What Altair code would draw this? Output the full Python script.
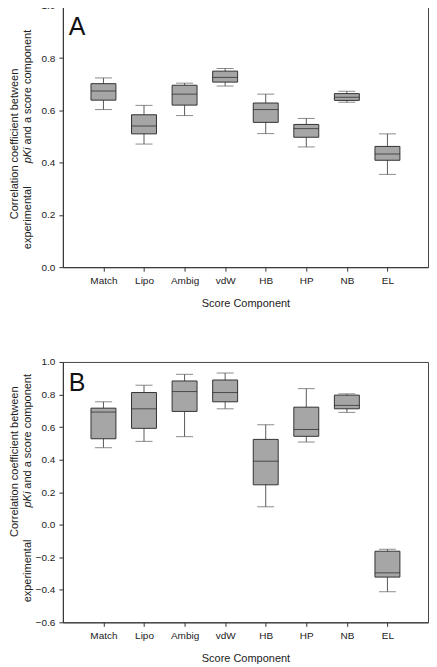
import altair as alt
import pandas as pd

categories = ["Match", "Lipo", "Ambig", "vdW", "HB", "HP", "NB", "EL"]

# Panel A five-number summaries
a_min = [0.603, 0.471, 0.580, 0.693, 0.511, 0.460, 0.631, 0.355]
a_q1 = [0.639, 0.510, 0.620, 0.708, 0.554, 0.497, 0.638, 0.409]
a_med = [0.674, 0.540, 0.662, 0.726, 0.603, 0.530, 0.650, 0.433]
a_q3 = [0.702, 0.583, 0.696, 0.750, 0.628, 0.546, 0.664, 0.462]
a_max = [0.724, 0.619, 0.704, 0.760, 0.662, 0.569, 0.673, 0.510]

# Panel B five-number summaries
b_min = [0.473, 0.512, 0.541, 0.712, 0.110, 0.508, 0.690, -0.412]
b_q1 = [0.528, 0.592, 0.696, 0.755, 0.245, 0.543, 0.712, -0.322]
b_med = [0.692, 0.712, 0.818, 0.812, 0.390, 0.585, 0.733, -0.296]
b_q3 = [0.716, 0.812, 0.883, 0.889, 0.524, 0.722, 0.796, -0.163]
b_max = [0.755, 0.857, 0.924, 0.932, 0.614, 0.836, 0.804, -0.151]

a_ticks = [0.0, 0.2, 0.4, 0.6, 0.8, 1.0]
b_ticks = [-0.6, -0.4, -0.2, 0.0, 0.2, 0.4, 0.6, 0.8, 1.0]

x_title = "Score Component"
title_line1 = "Correlation coefficient between"
title_parts = ["experimental", "pKi", "and a score component"]

W = 366
FONT = "Liberation Sans"


def panel(letter, mn, q1, md, q3, mx, domain, ticks, tpos, h):
    df = pd.DataFrame({"cat": categories, "lo": mn, "q1": q1, "med": md, "q3": q3, "hi": mx})
    base = alt.Chart(df)
    x = alt.X("cat:N", sort=categories, scale=alt.Scale(type="point", padding=1),
              axis=alt.Axis(title=x_title, labelAngle=0))
    yscale = alt.Scale(domain=domain, nice=False, zero=False)
    yaxis = alt.Axis(title=None, values=ticks, tickCount=30, format=".1f", labelOverlap=False)

    whisk = base.mark_rule(color="#5a5a5a", strokeWidth=1).encode(
        x=x, y=alt.Y("lo:Q", scale=yscale, axis=yaxis), y2="hi:Q")
    box = base.mark_bar(size=25, color="#a6a6a6", stroke="#333333", strokeWidth=1).encode(
        x=x, y="q1:Q", y2="q3:Q")
    med = base.mark_tick(size=25, thickness=1, color="#222222").encode(x=x, y="med:Q")
    cap_lo = base.mark_tick(size=17, thickness=1, color="#5a5a5a").encode(x=x, y="lo:Q")
    cap_hi = base.mark_tick(size=17, thickness=1, color="#5a5a5a").encode(x=x, y="hi:Q")

    lab = alt.Chart(pd.DataFrame({"t": [letter]})).mark_text(
        fontSize=25, align="left", baseline="alphabetic", color="#111111", font=FONT
    ).encode(text="t:N", x=alt.value(6), y=alt.value(29))

    l1c, exp_start, pki_c, and_start = tpos
    t1 = alt.Chart(pd.DataFrame({"t": [title_line1]})).mark_text(
        fontSize=11, angle=270, align="center", baseline="middle", color="#222222", font=FONT
    ).encode(text="t:N", x=alt.value(-48), y=alt.value(l1c))
    t2 = alt.Chart(pd.DataFrame({"t": [title_parts[0]]})).mark_text(
        fontSize=11, angle=270, align="left", baseline="middle", color="#222222", font=FONT
    ).encode(text="t:N", x=alt.value(-35), y=alt.value(exp_start))
    t3 = alt.Chart(pd.DataFrame({"t": [title_parts[1]]})).mark_text(
        fontSize=11, angle=270, align="center", baseline="middle", color="#222222",
        font=FONT, fontStyle="italic"
    ).encode(text="t:N", x=alt.value(-35), y=alt.value(pki_c))
    t4 = alt.Chart(pd.DataFrame({"t": [title_parts[2]]})).mark_text(
        fontSize=11, angle=270, align="left", baseline="middle", color="#222222", font=FONT
    ).encode(text="t:N", x=alt.value(-35), y=alt.value(and_start))

    return alt.layer(whisk, box, med, cap_lo, cap_hi, lab, t1, t2, t3, t4).properties(
        width=W, height=h)


pa = panel("A", a_min, a_q1, a_med, a_q3, a_max, [0, 1], a_ticks, (138.5, 244, 150, 139), 262)
pb = panel("B", b_min, b_q1, b_med, b_q3, b_max, [-0.6, 1], b_ticks, (100, 241, 138, 127), 261)

chart = alt.vconcat(pa, pb, spacing=47).properties(
    padding={"left": 0, "top": -9, "right": 0, "bottom": 0}
).configure_view(
    stroke="#444444", strokeWidth=1
).configure_axis(
    labelFont=FONT, labelFontSize=10, labelColor="#222222",
    titleFont=FONT, titleFontSize=11, titleFontWeight="normal", titleColor="#222222",
    domainColor="#333333", tickColor="#333333", tickSize=4, labelPadding=4,
    titlePadding=12, grid=False
).configure_text(font=FONT)

chart.save("out.html", embed_options={"renderer": "svg", "actions": False})
